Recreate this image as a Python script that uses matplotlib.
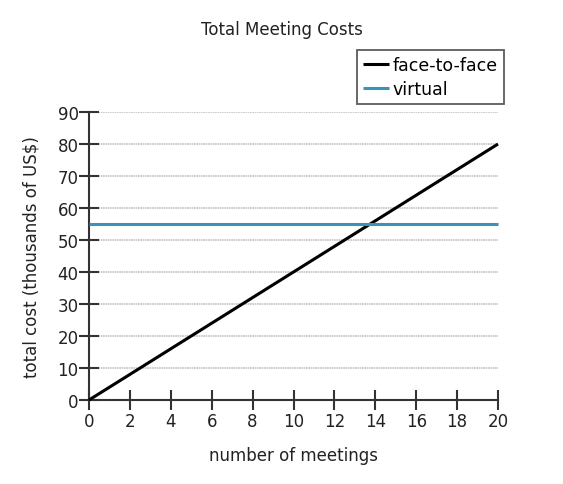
import numpy as np
import matplotlib.pyplot as plt

# data
meetings = [0, 20]
face_to_face = [0, 80]
virtual = [55, 55]
x_ticks = list(range(0, 21, 2))
y_ticks = list(range(0, 91, 10))

plt.rcParams["font.family"] = "DejaVu Sans"

fig = plt.figure(figsize=(5.63, 4.85), dpi=100)
ax = fig.add_axes([89 / 563, 1 - 401 / 485, (498 - 89) / 563, (401 - 113) / 485])

for y in y_ticks[1:]:
    ax.axhline(y, color="#c4c4c4", lw=1.2, ls=(0, (1, 0.4)), zorder=1)

ax.plot(meetings, face_to_face, color="black", lw=2.2, label="face-to-face",
        solid_capstyle="butt", zorder=3, clip_on=False)
ax.plot(meetings, virtual, color="#3a93b8", lw=2.2, label="virtual",
        solid_capstyle="butt", zorder=3, clip_on=False)

ax.set_xlim(0, 20)
ax.set_ylim(0, 90)
ax.set_xticks(x_ticks)
ax.set_yticks(y_ticks)

for s in ["top", "right"]:
    ax.spines[s].set_visible(False)
for s in ["left", "bottom"]:
    ax.spines[s].set_color("#333333")
    ax.spines[s].set_linewidth(1.5)

ax.tick_params(axis="both", direction="inout", length=15, width=1.5,
               color="#333333", labelsize=12, labelcolor="#222222")
ax.tick_params(axis="x", pad=1)
ax.tick_params(axis="y", pad=0)

ax.set_xlabel("number of meetings", fontsize=12, color="#222222", labelpad=12)
ax.set_ylabel("total cost (thousands of US$)", fontsize=12, color="#222222", labelpad=12)
fig.text(282 / 563, 1 - 30 / 485, "Total Meeting Costs", ha="center", va="center",
         fontsize=12, color="#222222")

leg = ax.legend(loc="upper right", bbox_to_anchor=(504 / 563, 1 - 51 / 485),
                bbox_transform=fig.transFigure, frameon=True, fancybox=False,
                fontsize=12.5, handlelength=1.5, handletextpad=0.2,
                borderpad=0.35, labelspacing=0.35, borderaxespad=0)
leg.get_frame().set_edgecolor("#333333")
leg.get_frame().set_linewidth(1.3)

fig.savefig("out.png", dpi=100)
